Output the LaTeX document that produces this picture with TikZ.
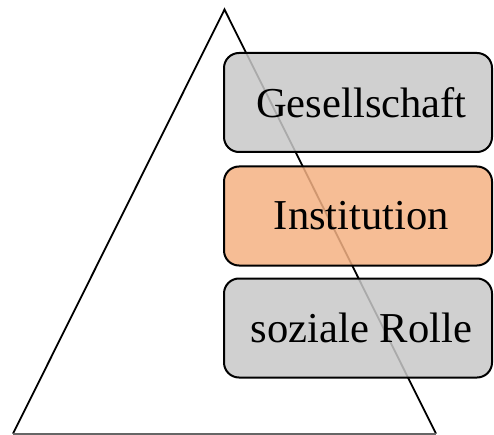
\documentclass[tikz,border=0pt]{standalone}
\usepackage{fontspec}
\setmainfont{Liberation Serif}
\definecolor{boxgray}{HTML}{C8C8C8}
\definecolor{boxorange}{HTML}{F4B183}
\begin{document}
\begin{tikzpicture}[x=1pt,y=1pt,
  level/.style={draw=black, line width=2pt, rounded corners=15pt, fill opacity=0.85, text opacity=1,
    minimum width=268pt, minimum height=99pt, inner sep=0pt, font=\fontsize{42.6}{48}\selectfont},
  tri/.style={draw=black, line width=1.8pt}]
\useasboundingbox (0,0) rectangle (494,434);
\coordinate (apex) at (224.5,424.5);
\coordinate (bl) at (13,0.3);
\coordinate (br) at (436,0.3);
\draw[tri, line join=miter] (bl) -- (apex) -- (br);
\draw[black!60, line width=1.8pt] (bl) -- (br);
\node[level, fill=boxgray] (ges) at (358,331.5) {\hspace*{7pt}Gesellschaft};
\node[level, fill=boxorange] (inst) at (358,218) {\hspace*{7pt}Institution};
\node[level, fill=boxgray] (rolle) at (358,106) {\hspace*{7pt}soziale Rolle};
\end{tikzpicture}
\end{document}
